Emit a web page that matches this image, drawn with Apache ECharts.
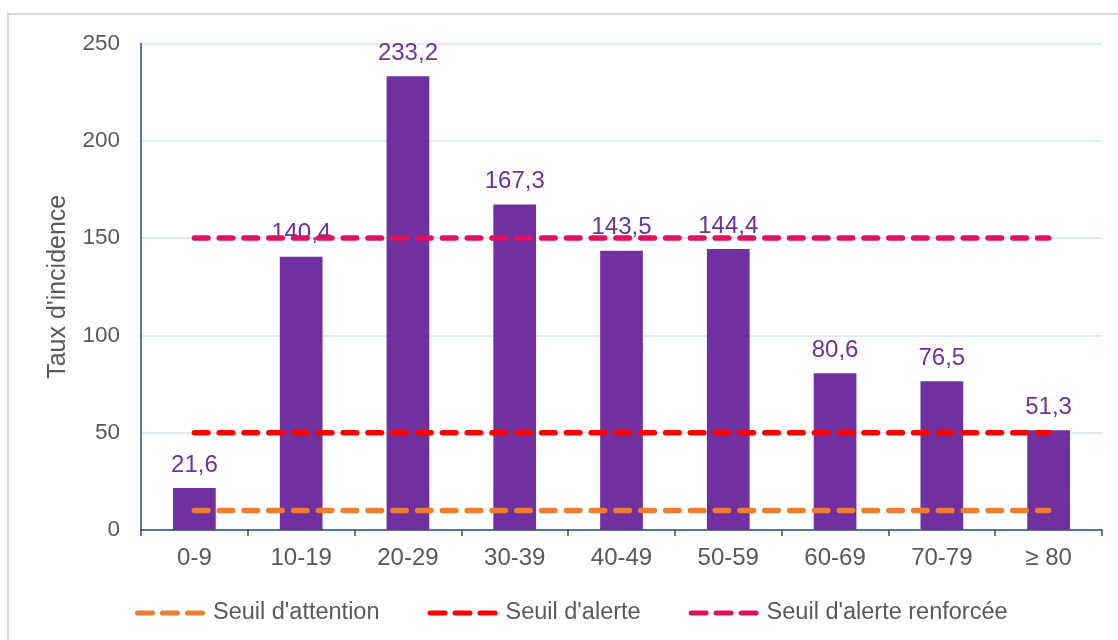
<!DOCTYPE html>
<html><head><meta charset="utf-8">
<script src="https://cdn.jsdelivr.net/npm/echarts@6/dist/echarts.min.js"></script>
<style>
html,body{margin:0;padding:0;background:#fff;}
#frame{position:absolute;left:7px;top:13px;width:1120px;height:640px;border:2px solid #d9d9d9;box-sizing:border-box;}
#chart{position:absolute;left:0;top:0;width:1118px;height:640px;}
</style></head>
<body>
<div id="frame"></div>
<div id="chart"></div>
<script>
const categories = ['0-9','10-19','20-29','30-39','40-49','50-59','60-69','70-79','\u2265 80'];
const tauxIncidence = [21.6, 140.4, 233.2, 167.3, 143.5, 144.4, 80.6, 76.5, 51.3];
const seuilAttention = [10, 10, 10, 10, 10, 10, 10, 10, 10];
const seuilAlerte = [50, 50, 50, 50, 50, 50, 50, 50, 50];
const seuilRenforcee = [150, 150, 150, 150, 150, 150, 150, 150, 150];
const yTicks = [0, 50, 100, 150, 200, 250];

const font = 'Liberation Sans, Arial, sans-serif';
const txt = '#595959';
const dashIcon = 'path://M2.5,0h15a2.5,2.5 0 0 1 0,5h-15a2.5,2.5 0 0 1 0,-5z M27.5,0h15a2.5,2.5 0 0 1 0,5h-15a2.5,2.5 0 0 1 0,-5z M52.5,0h15a2.5,2.5 0 0 1 0,5h-15a2.5,2.5 0 0 1 0,-5z';
const chart = echarts.init(document.getElementById('chart'), null, {renderer:'canvas'});
function lineSeries(name, data, color){
  return {name, type:'line', data, symbol:'none', z:5,
    lineStyle:{color, width:5.5, type:[13.5,11.3], cap:'round'},
    itemStyle:{color}, emphasis:{disabled:true}, animation:false};
}
chart.setOption({
  animation:false,
  textStyle:{fontFamily:font},
  grid:{left:141, right:16, top:43.5, bottom:110, containLabel:false},
  legend:{
    left:130, top:596, itemWidth:70, itemHeight:5.5, itemGap:48,
    textStyle:{color:txt, fontSize:23.5, fontFamily:font, padding:[0,0,0,3]},
    data:[
      {name:'Seuil d\'attention', icon:dashIcon},
      {name:'Seuil d\'alerte', icon:dashIcon},
      {name:'Seuil d\'alerte renforcée', icon:dashIcon}
    ]
  },
  xAxis:{type:'category', data:categories, boundaryGap:true,
    axisLine:{lineStyle:{color:'#2F4B7C', width:1.5}},
    axisTick:{show:true, length:6, alignWithLabel:false, lineStyle:{color:'#2F4B7C', width:1.5}},
    axisLabel:{color:txt, fontSize:24, margin:16, fontFamily:font}},
  yAxis:{type:'value', min:yTicks[0], max:yTicks[yTicks.length-1], interval:50,
    name:'Taux d\'incidence', nameLocation:'middle', nameGap:70,
    nameTextStyle:{color:txt, fontSize:25, fontFamily:font},
    axisLine:{show:true, lineStyle:{color:'#2F4B7C', width:1.5}},
    axisTick:{show:false},
    axisLabel:{color:txt, fontSize:22.5, margin:21, fontFamily:font},
    splitLine:{lineStyle:{color:'#D6E4F4', width:1.5}}},
  series:[
    {name:'Taux', type:'bar', data:tauxIncidence, barWidth:'40%', z:2,
      itemStyle:{color:'#7030A0'},
      label:{show:true, position:'top', distance:11, color:'#7030A0', fontSize:24, fontFamily:font,
        formatter:p=>String(p.value).replace('.', ',')}},
    lineSeries('Seuil d\'attention', seuilAttention, '#ED7D31'),
    lineSeries('Seuil d\'alerte', seuilAlerte, '#FF0000'),
    lineSeries('Seuil d\'alerte renforcée', seuilRenforcee, '#E0115F')
  ]
});
</script>
</body></html>
